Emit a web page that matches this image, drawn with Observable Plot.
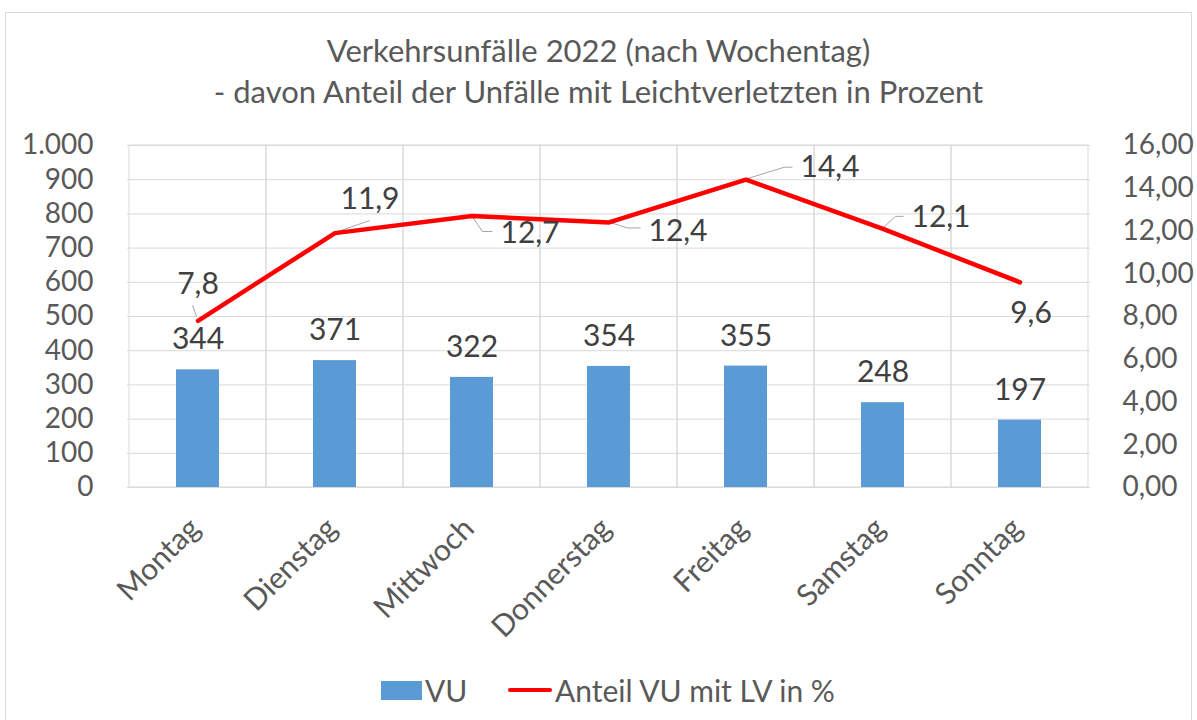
<!DOCTYPE html>
<html>
<head>
<meta charset="utf-8">
<script src="https://cdn.jsdelivr.net/npm/d3@7"></script>
<script src="https://cdn.jsdelivr.net/npm/@observablehq/plot@0.6"></script>
<style>
  body { margin: 0; background: #fff; font-family: Lato, "Open Sans", sans-serif; color: #595959; }
  #frame { position: absolute; left: 5px; top: 12px; width: 1187px; height: 720px; border: 1px solid #d9d9d9; box-sizing: border-box; }
  .title { position: absolute; left: 0; width: 1197px; text-align: center; font-size: 31px; line-height: 36px; color: #595959; }
  #chart { position: absolute; left: 0; top: 120px; }
  .leg { position: absolute; font-size: 30px; line-height: 36px; color: #595959; }
</style>
</head>
<body>
<div id="frame"></div>
<div class="title" style="top:32px">Verkehrsunfälle 2022 (nach Wochentag)</div>
<div class="title" style="top:73px">- davon Anteil der Unfälle mit Leichtverletzten in Prozent</div>
<div id="chart"></div>
<div style="position:absolute;left:381px;top:681px;width:41px;height:19px;background:#5b9bd5"></div>
<div class="leg" style="left:425px;top:672px">VU</div>
<div style="position:absolute;left:508px;top:688px;width:44px;height:4px;background:#ff0000;border-radius:2px"></div>
<div class="leg" style="left:555px;top:672px">Anteil VU mit LV in %</div>
<script>
// ---- data ----
const days = ["Montag", "Dienstag", "Mittwoch", "Donnerstag", "Freitag", "Samstag", "Sonntag"];
const vu = [344, 371, 322, 354, 355, 248, 197];
const pct = [7.8, 11.9, 12.7, 12.4, 14.4, 12.1, 9.6];
const leftTicks = [0, 100, 200, 300, 400, 500, 600, 700, 800, 900, 1000];
const rightTicks = [0, 2, 4, 6, 8, 10, 12, 14, 16];
const leftMax = 1000, rightMax = 16;

// ---- label placement (pixel offsets, style only) ----
const pctLabelOffset = [[0, -36], [35, -34], [58, 17], [69, 9], [84, -12], [58, -11], [11, 31]];
const pctLeader = [
  [[-5, -15], [-1, -4]],
  [[0, 0], [35, -12]],
  [[0, 0], [11, 16], [21, 16]],
  [[0, 0], [19, 6], [32, 6]],
  [[0, 0], [39, -12], [47, -12]],
  [[0, 0], [13, -12], [21, -12]],
  null
];

const k = leftMax / rightMax;
const de = d3.formatLocale({decimal: ",", thousands: ".", grouping: [3], currency: ["", "€"]});
const fmtLeft = de.format(",");
const fmtRight = de.format(",.2f");
const fmtPct = de.format(",.1f");

const data = days.map((d, i) => ({day: d, vu: vu[i], pct: pct[i], idx: i}));

const grid = "#d9d9d9";
const textCol = "#404040";

const plot = Plot.plot({
  width: 1197,
  height: 520,
  marginTop: 25,
  marginBottom: 153,
  marginLeft: 127,
  marginRight: 107,
  style: "font-family: Lato, 'Open Sans', sans-serif; font-size: 28px; color: #595959; background: transparent; overflow: visible;",
  x: {domain: days, padding: 0},
  y: {domain: [0, leftMax]},
  marks: [
    Plot.ruleY(leftTicks, {stroke: grid, strokeWidth: 1}),
    Plot.barY(days, {x: d => d, y1: 0, y2: leftMax, fill: "none", stroke: grid, strokeWidth: 1}),
    Plot.barY(data, {x: "day", y: "vu", fill: "#5b9bd5", insetLeft: 47, insetRight: 47}),
    Plot.text(data, {x: "day", y: "vu", text: d => String(d.vu), dy: -30, fontSize: 30, fill: textCol}),
    Plot.line(data, {x: "day", y: d => d.pct * k, stroke: "#ff0000", strokeWidth: 4.5, strokeLinecap: "round", strokeLinejoin: "round"}),
    ...data.map((d, i) => Plot.text([d], {
      x: "day", y: r => r.pct * k, text: r => fmtPct(r.pct),
      dx: pctLabelOffset[i][0], dy: pctLabelOffset[i][1], fontSize: 30, fill: textCol
    })),
    Plot.axisY(leftTicks, {anchor: "left", tickSize: 0, tickPadding: 34, tickFormat: fmtLeft, fontSize: 28, color: "#595959", label: null}),
    Plot.axisY(rightTicks.map(t => t * k), {anchor: "right", tickSize: 0, tickPadding: 32, tickFormat: v => fmtRight(v / k), fontSize: 28, color: "#595959", label: null}),
    Plot.axisX({tickRotate: -45, tickSize: 0, tickPadding: 36, dx: -3, fontSize: 30, color: "#595959", label: null})
  ]
});

document.getElementById("chart").appendChild(plot);

// leader lines for the percent labels, positioned through the plot's scales
const sx = plot.scale("x"), sy = plot.scale("y");
const bw = sx.bandwidth !== undefined ? sx.bandwidth : (1090 - 127) / days.length;
const cx = d => sx.apply(d) + bw / 2;
const svg = d3.select(plot);
const lineNode = svg.select("[aria-label=line]").node();
const g = svg.insert("g", () => lineNode).attr("stroke", "#a6a6a6").attr("stroke-width", 1).attr("fill", "none");
pctLeader.forEach((pts, i) => {
  if (!pts) return;
  const x0 = cx(days[i]), y0 = sy.apply(pct[i] * k);
  g.append("path").attr("d", "M" + pts.map(([a, b]) => (x0 + a) + "," + (y0 + b)).join("L"));
});
</script>
</body>
</html>
